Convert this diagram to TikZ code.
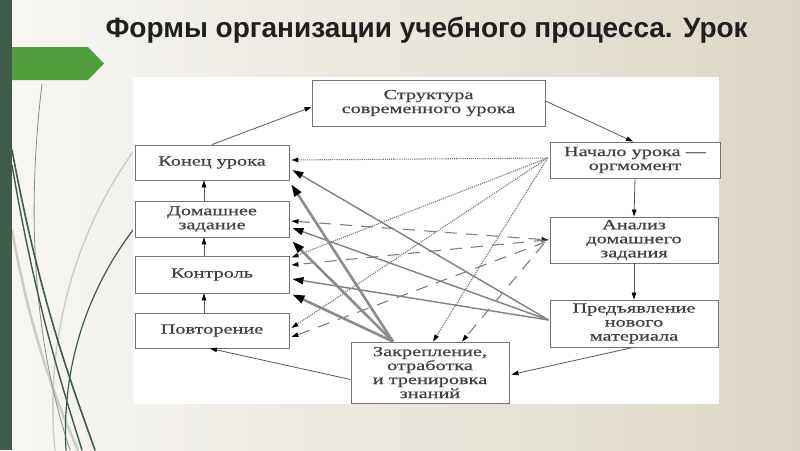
\documentclass[tikz,border=0pt]{standalone}
\usepackage{fontspec}
\setmainfont{Liberation Serif}
\newfontfamily\boxfont[FakeStretch=1.45,FakeBold=0.6]{Liberation Serif}
\newfontfamily\titlefont{Liberation Sans}
\usetikzlibrary{arrows.meta,calc}
\definecolor{bgL}{HTML}{F8F7F4}
\definecolor{bgR}{HTML}{DDD6C7}
\definecolor{barG}{HTML}{3E5C49}
\definecolor{arrG}{HTML}{519E3E}
\definecolor{curveG}{HTML}{3D5C47}
\definecolor{curveL}{HTML}{C9CFC6}
\tikzset{
  box/.style={draw=black!55, line width=0.9pt, fill=white, inner sep=0pt, align=center,
    font=\boxfont\fontsize{14}{14}\selectfont, text=black!75},
  thinarrow/.style={draw=black!65, line width=0.8pt, -{Triangle[length=7pt,width=4.5pt,color=black]}},
  dotarrow/.style={draw=black!55, line width=1.1pt, densely dotted, -{Triangle[length=7pt,width=4.5pt,color=black]}},
  dasharrow/.style={draw=black!50, line width=1.1pt, dash pattern=on 12pt off 9pt, -{Triangle[length=7pt,width=4.5pt,color=black]}},
  dashboth/.style={draw=black!50, line width=1.1pt, dash pattern=on 12pt off 9pt, {Triangle[length=7pt,width=4.5pt,color=black]}-{Triangle[length=7pt,width=4.5pt,color=black]}},
  solidarrow/.style={draw=black!50, line width=1.4pt, -{Triangle[length=11pt,width=7pt,color=black]}},
  thickarrow/.style={draw=black!45, line width=2.6pt, -{Triangle[length=12pt,width=8pt,color=black]}},
  deco/.style={line cap=round}
}
\begin{document}
\begin{tikzpicture}[x=1pt,y=-1pt]
\useasboundingbox (0,0) rectangle (800,450);
% background
\shade[left color=bgL, right color=bgR] (0,0) rectangle (800,450);
% decorative curves
\draw[deco, curveL, line width=2.5pt] (12,230) .. controls (30,330) and (55,400) .. (78,450);
\draw[deco, curveL, line width=1.4pt] (133,152) .. controls (70,240) and (45,350) .. (55,450);
\draw[deco, black!45, line width=0.8pt] (42,84) .. controls (28,200) and (30,330) .. (70,450);
\draw[deco, curveG, line width=1.6pt] (12,150) .. controls (40,300) and (70,380) .. (95,450);
\draw[deco, curveG, line width=1.4pt] (12,165) .. controls (35,300) and (60,380) .. (82,450);
\draw[deco, curveG, line width=1.2pt] (133,230) .. controls (80,300) and (62,380) .. (66,450);
% left bar and green arrow
\fill[arrG] (0,47) -- (88,47) -- (104,63.5) -- (88,80) -- (0,80) -- cycle;
\fill[barG] (0,0) rectangle (12,450);
% title
\node[font=\titlefont\bfseries\fontsize{28}{30}\selectfont, text=black!88, anchor=base west] (title) at (102,37) {Формы организации учебного процесса. Урок};
% white diagram area
\fill[white] (133,77) rectangle (719,404);
% boxes
\node[box, minimum width=233pt, minimum height=46pt] (str) at (428.5,103) {Структура\\современного урока};
\node[box, minimum width=154pt, minimum height=35pt] (kon) at (212,162.5) {Конец урока};
\node[box, minimum width=154pt, minimum height=36pt] (dom) at (212,219) {Домашнее\\задание};
\node[box, minimum width=154pt, minimum height=37pt] (ktr) at (212,274.5) {Контроль};
\node[box, minimum width=154pt, minimum height=35pt] (pov) at (212,330.5) {Повторение};
\node[box, minimum width=158pt, minimum height=61pt] (zak) at (430,372.5) {Закрепление,\\отработка\\и тренировка\\знаний};
\node[box, minimum width=170pt, minimum height=36pt] (nach) at (635,160) {Начало урока —\\оргмомент};
\node[box, minimum width=168pt, minimum height=46pt] (anal) at (634,240) {Анализ\\домашнего\\задания};
\node[box, minimum width=168pt, minimum height=47pt] (pred) at (634,323.5) {Предъявление\\нового\\материала};
% main cycle
\draw[thinarrow] (kon.north) -- ($(str.west)+(0,4)$);
\draw[thinarrow] ($(str.east)+(0,-2)$) -- ($(nach.north)+(-2,0)$);
\draw[thinarrow] (nach.south) -- (anal.north);
\draw[thinarrow] (anal.south) -- (pred.north);
\draw[thinarrow] ($(pred.south)+(-1,0)$) -- ($(zak.east)+(2,2)$);
\draw[thinarrow] ($(zak.west)+(0,7)$) -- ($(pov.south)+(-2,0)$);
\draw[thinarrow] ($(pov.north)+(-8,0)$) -- ($(ktr.south)+(-8,0)$);
\draw[thinarrow] ($(ktr.north)+(-8,0)$) -- ($(dom.south)+(-8,0)$);
\draw[thinarrow] ($(dom.north)+(-8,0)$) -- ($(kon.south)+(-8,0)$);
% dotted from Начало
\draw[dotarrow] ($(nach.west)+(-2,-2)$) -- ($(kon.east)+(2,-2.5)$);
\draw[dotarrow] ($(nach.west)+(-2,-2)$) -- ($(ktr.north east)+(2,2)$);
\draw[dotarrow] ($(nach.west)+(-2,-2)$) -- ($(pov.east)+(2,-2.5)$);
\draw[dotarrow] ($(nach.west)+(-2,-2)$) -- ($(zak.north)+(3,0)$);
% dashed from Анализ
\draw[dashboth] ($(dom.east)+(2,2)$) -- ($(anal.west)+(-1,0)$);
\draw[dasharrow] ($(anal.west)+(-4,0)$) -- ($(ktr.east)+(2,-9.5)$);
\draw[dasharrow] ($(anal.west)+(-4,2)$) -- ($(pov.east)+(2,6.5)$);
\draw[dasharrow] ($(anal.west)+(-6,4)$) -- ($(zak.north)+(32,0)$);
% solid from Предъявление
\draw[solidarrow] ($(pred.west)+(-1,-3.5)$) -- ($(kon.east)+(3,7.5)$);
\draw[solidarrow] ($(pred.west)+(-1,-3.5)$) -- ($(dom.east)+(3,9)$);
\draw[solidarrow] ($(pred.west)+(-1,-3.5)$) -- ($(ktr.east)+(3,4.5)$);
% thick from Закрепление
\draw[thickarrow] ($(zak.north)+(-37,0)$) -- ($(kon.south east)+(2,4)$);
\draw[thickarrow] ($(zak.north)+(-37,0)$) -- ($(dom.south east)+(3,4)$);
\draw[thickarrow] ($(zak.north)+(-37,0)$) -- ($(ktr.south east)+(3,1)$);
\end{tikzpicture}
\end{document}
